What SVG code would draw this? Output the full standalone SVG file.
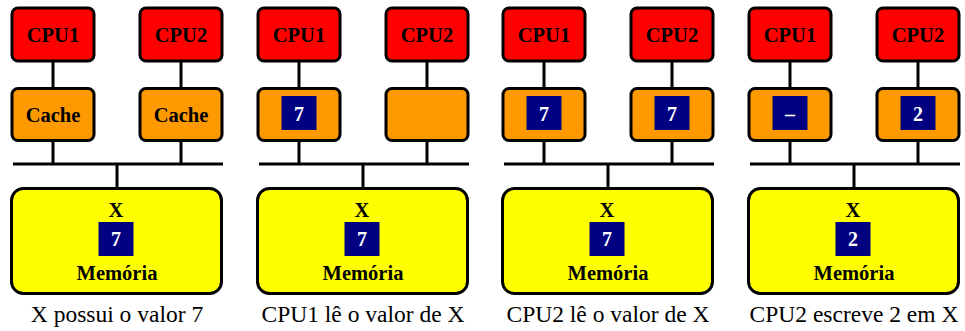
<svg xmlns="http://www.w3.org/2000/svg" width="965" height="331" viewBox="0 0 965 331">
  <style>
    .cpu { fill: #FF0000; stroke: #000; stroke-width: 3; }
    .cache { fill: #FF9900; stroke: #000; stroke-width: 3; }
    .mem { fill: #FFFF00; stroke: #000; stroke-width: 3; }
    .val { fill: #000080; }
    .wire { stroke: #000; stroke-width: 3; fill: none; }
    text { font-family: 'Liberation Serif', 'Times New Roman', 'DejaVu Serif', serif; }
    .lbl { font-weight: bold; font-size: 20.5px; text-anchor: middle; fill: #000; }
    .num { font-weight: bold; font-size: 20px; text-anchor: middle; fill: #fff; }
    .cap { font-size: 23.5px; text-anchor: middle; fill: #000; }
  </style>

  <!-- Panel 1: X possui o valor 7 -->
  <g id="panel1">
    <g id="p1-connectors">
      <path class="wire" d="M53 62V87M181 62V87M53 142V164M181 142V164M13 164H223M117 164V187"/>
    </g>
    <g id="p1-cpu1"><rect class="cpu" x="12" y="8" width="82" height="53" rx="6"/><text class="lbl" x="53" y="42">CPU1</text></g>
    <g id="p1-cpu2"><rect class="cpu" x="140" y="8" width="82" height="53" rx="6"/><text class="lbl" x="181" y="42">CPU2</text></g>
    <g id="p1-cache1"><rect class="cache" x="12" y="88.5" width="82" height="52" rx="6"/><text class="lbl" x="53" y="122">Cache</text></g>
    <g id="p1-cache2"><rect class="cache" x="140" y="88.5" width="82" height="52" rx="6"/><text class="lbl" x="181" y="122">Cache</text></g>
    <g id="p1-mem"><rect class="mem" x="11.5" y="188.5" width="210" height="105" rx="12"/>
      <text class="lbl" x="116" y="217">X</text>
      <rect class="val" x="98.5" y="222" width="35" height="34"/><text class="num" x="116" y="246">7</text>
      <text class="lbl" x="117" y="280">Memória</text></g>
    <text class="cap" x="117" y="322">X possui o valor 7</text>
  </g>

  <!-- Panel 2: CPU1 lê o valor de X -->
  <g id="panel2" transform="translate(246,0)">
    <g id="p2-connectors">
      <path class="wire" d="M53 62V87M181 62V87M53 142V164M181 142V164M13 164H223M117 164V187"/>
    </g>
    <g id="p2-cpu1"><rect class="cpu" x="12" y="8" width="82" height="53" rx="6"/><text class="lbl" x="53" y="42">CPU1</text></g>
    <g id="p2-cpu2"><rect class="cpu" x="140" y="8" width="82" height="53" rx="6"/><text class="lbl" x="181" y="42">CPU2</text></g>
    <g id="p2-cache1"><rect class="cache" x="12" y="88.5" width="82" height="52" rx="6"/>
      <rect class="val" x="35.5" y="96" width="35" height="34"/><text class="num" x="53" y="121">7</text></g>
    <g id="p2-cache2"><rect class="cache" x="140" y="88.5" width="82" height="52" rx="6"/></g>
    <g id="p2-mem"><rect class="mem" x="11.5" y="188.5" width="210" height="105" rx="12"/>
      <text class="lbl" x="116" y="217">X</text>
      <rect class="val" x="98.5" y="222" width="35" height="34"/><text class="num" x="116" y="246">7</text>
      <text class="lbl" x="117" y="280">Memória</text></g>
    <text class="cap" x="117" y="322">CPU1 lê o valor de X</text>
  </g>

  <!-- Panel 3: CPU2 lê o valor de X -->
  <g id="panel3" transform="translate(491,0)">
    <g id="p3-connectors">
      <path class="wire" d="M53 62V87M181 62V87M53 142V164M181 142V164M13 164H223M117 164V187"/>
    </g>
    <g id="p3-cpu1"><rect class="cpu" x="12" y="8" width="82" height="53" rx="6"/><text class="lbl" x="53" y="42">CPU1</text></g>
    <g id="p3-cpu2"><rect class="cpu" x="140" y="8" width="82" height="53" rx="6"/><text class="lbl" x="181" y="42">CPU2</text></g>
    <g id="p3-cache1"><rect class="cache" x="12" y="88.5" width="82" height="52" rx="6"/>
      <rect class="val" x="35.5" y="96" width="35" height="34"/><text class="num" x="53" y="121">7</text></g>
    <g id="p3-cache2"><rect class="cache" x="140" y="88.5" width="82" height="52" rx="6"/>
      <rect class="val" x="163.5" y="96" width="35" height="34"/><text class="num" x="181" y="121">7</text></g>
    <g id="p3-mem"><rect class="mem" x="11.5" y="188.5" width="210" height="105" rx="12"/>
      <text class="lbl" x="116" y="217">X</text>
      <rect class="val" x="98.5" y="222" width="35" height="34"/><text class="num" x="116" y="246">7</text>
      <text class="lbl" x="117" y="280">Memória</text></g>
    <text class="cap" x="117" y="322">CPU2 lê o valor de X</text>
  </g>

  <!-- Panel 4: CPU2 escreve 2 em X -->
  <g id="panel4" transform="translate(737,0)">
    <g id="p4-connectors">
      <path class="wire" d="M53 62V87M181 62V87M53 142V164M181 142V164M13 164H223M117 164V187"/>
    </g>
    <g id="p4-cpu1"><rect class="cpu" x="12" y="8" width="82" height="53" rx="6"/><text class="lbl" x="53" y="42">CPU1</text></g>
    <g id="p4-cpu2"><rect class="cpu" x="140" y="8" width="82" height="53" rx="6"/><text class="lbl" x="181" y="42">CPU2</text></g>
    <g id="p4-cache1"><rect class="cache" x="12" y="88.5" width="82" height="52" rx="6"/>
      <rect class="val" x="35.5" y="96" width="35" height="34"/><text class="num" x="53" y="121">–</text></g>
    <g id="p4-cache2"><rect class="cache" x="140" y="88.5" width="82" height="52" rx="6"/>
      <rect class="val" x="163.5" y="96" width="35" height="34"/><text class="num" x="181" y="121">2</text></g>
    <g id="p4-mem"><rect class="mem" x="11.5" y="188.5" width="210" height="105" rx="12"/>
      <text class="lbl" x="116" y="217">X</text>
      <rect class="val" x="98.5" y="222" width="35" height="34"/><text class="num" x="116" y="246">2</text>
      <text class="lbl" x="117" y="280">Memória</text></g>
    <text class="cap" x="117" y="322">CPU2 escreve 2 em X</text>
  </g>
</svg>
